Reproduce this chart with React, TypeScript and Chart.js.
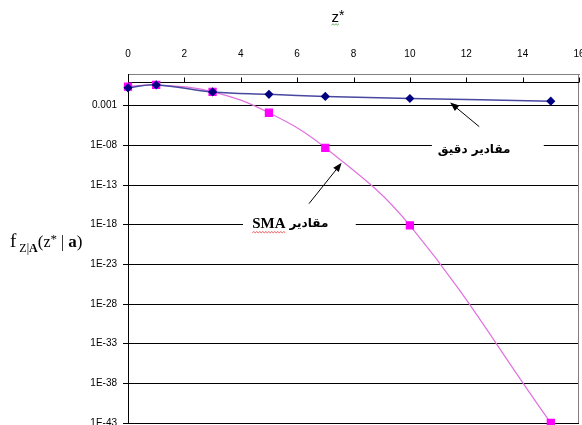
import React, { useEffect, useRef } from 'react';
import { Chart, registerables } from 'chart.js';

Chart.register(...registerables);

// ---- data ----
const zValues = [0, 1, 3, 5, 7, 10, 15];
const exactValues = [0.18, 0.42, 0.055, 0.027, 0.015, 0.0083, 0.0038];
const smaValues = [0.25, 0.42, 0.057, 1.3e-4, 5e-9, 8e-19, 1e-43];
const xTickValues = [0, 2, 4, 6, 8, 10, 12, 14, 16];
const yTickValues = [1e-43, 1e-38, 1e-33, 1e-28, 1e-23, 1e-18, 1e-13, 1e-8, 1e-3];
const yTickLabels = ['1E-43', '1E-38', '1E-33', '1E-28', '1E-23', '1E-18', '1E-13', '1E-08', '0.001'];
const xTitle = 'z*';
const exactLabel = 'مقادير دقيق';
const smaLabelAr = 'مقادير';
const smaLabelEn = 'SMA';

// annotation anchors (data coordinates)
const exactNote = { textX: 12.28, textY: 2.95e-9, boxFrom: 10.78, boxTo: 14.75 };
const exactArrow = { fromX: 12.46, fromY: 2.3e-6, toX: 11.43, toY: 2.5e-3 };
const smaNote = { enX: 5.0, textY: 1.3e-18, boxFrom: 4.08, boxTo: 8.08 };
const smaArrow = { fromX: 6.42, fromY: 4.5e-16, toX: 7.58, toY: 6.3e-11 };

const AXIS_FONT = 'Arial, "Liberation Sans", sans-serif';
const SERIF = '"Times New Roman", "Liberation Serif", serif';
const ARABIC = 'bold 12px "DejaVu Sans", Arial, sans-serif';

function drawArrow(ctx: CanvasRenderingContext2D, x1: number, y1: number, x2: number, y2: number) {
  ctx.save();
  ctx.strokeStyle = '#000';
  ctx.fillStyle = '#000';
  ctx.lineWidth = 1;
  const ang = Math.atan2(y2 - y1, x2 - x1);
  const len = 9;
  const w = 3.5;
  ctx.beginPath();
  ctx.moveTo(x1, y1);
  ctx.lineTo(x2 - len * 0.6 * Math.cos(ang), y2 - len * 0.6 * Math.sin(ang));
  ctx.stroke();
  ctx.beginPath();
  ctx.moveTo(x2, y2);
  ctx.lineTo(x2 - len * Math.cos(ang) + w * Math.sin(ang), y2 - len * Math.sin(ang) - w * Math.cos(ang));
  ctx.lineTo(x2 - len * Math.cos(ang) - w * Math.sin(ang), y2 - len * Math.sin(ang) + w * Math.cos(ang));
  ctx.closePath();
  ctx.fill();
  ctx.restore();
}

function squiggle(ctx: CanvasRenderingContext2D, x1: number, x2: number, y: number, color: string) {
  ctx.save();
  ctx.strokeStyle = color;
  ctx.lineWidth = 0.8;
  ctx.beginPath();
  let up = true;
  ctx.moveTo(x1, y);
  for (let x = x1 + 1.5; x <= x2; x += 1.5) {
    ctx.lineTo(x, up ? y - 1.2 : y);
    up = !up;
  }
  ctx.stroke();
  ctx.restore();
}

const excelPlugin = {
  id: 'excelDecor',
  beforeDatasetsDraw(chart: any) {
    const { ctx, chartArea } = chart;
    const xs = chart.scales.x;
    const ys = chart.scales.y;
    ctx.save();
    // right border
    ctx.strokeStyle = '#808080';
    ctx.lineWidth = 1;
    ctx.beginPath();
    ctx.moveTo(Math.round(chartArea.right) - 0.5, chartArea.top);
    ctx.lineTo(Math.round(chartArea.right) - 0.5, chartArea.bottom);
    ctx.stroke();
    // category axis line crossing at 1
    const y1 = Math.round(ys.getPixelForValue(1)) + 0.5;
    ctx.strokeStyle = '#000';
    ctx.beginPath();
    ctx.moveTo(chartArea.left, y1);
    ctx.lineTo(chartArea.right, y1);
    for (const v of xTickValues) {
      if (v === 0) continue;
      const px = Math.round(xs.getPixelForValue(v)) + 0.5;
      ctx.moveTo(px, y1);
      ctx.lineTo(px, y1 - 5);
    }
    ctx.stroke();
    ctx.restore();
  },
  afterDraw(chart: any) {
    const { ctx, chartArea } = chart;
    const xs = chart.scales.x;
    const ys = chart.scales.y;
    ctx.save();

    // x title
    const tx = (chartArea.left + chartArea.right) / 2 - 16;
    ctx.fillStyle = '#000';
    ctx.textBaseline = 'alphabetic';
    ctx.font = '15px ' + AXIS_FONT;
    ctx.textAlign = 'left';
    const zW = ctx.measureText(xTitle[0]).width;
    ctx.fillText(xTitle[0], tx - 6, 22);
    ctx.font = '14px ' + AXIS_FONT;
    ctx.fillText(xTitle[1], tx - 6 + zW, 20);
    squiggle(ctx, tx - 6, tx - 6 + zW, 25, '#3a9a3a');

    // y title with subscript
    let x = 10;
    const base = (chartArea.top + chartArea.bottom) / 2 - 2;
    const parts = [
      { t: 'f', f: '19px ' + SERIF, dy: 0, gap: 3 },
      { t: 'Z', f: '12px ' + SERIF, dy: 5, gap: 0 },
      { t: '|', f: '12px ' + SERIF, dy: 5, gap: 0 },
      { t: 'A', f: 'bold 12px ' + SERIF, dy: 5, gap: 0 },
      { t: '(', f: '17px ' + SERIF, dy: 0, gap: 0 },
      { t: 'z', f: '16px ' + SERIF, dy: 0, gap: 0 },
      { t: '*', f: '13px ' + SERIF, dy: -4, gap: 0 },
      { t: ' | ', f: '16px ' + SERIF, dy: 0, gap: 0 },
      { t: 'a', f: 'bold 17px ' + SERIF, dy: 0, gap: 0 },
      { t: ')', f: '17px ' + SERIF, dy: 0, gap: 0 },
    ];
    for (const p of parts) {
      ctx.font = p.f;
      ctx.fillText(p.t, x, base + p.dy);
      x += ctx.measureText(p.t).width + p.gap;
    }

    // note: exact values
    const ey = ys.getPixelForValue(exactNote.textY);
    const bx1 = xs.getPixelForValue(exactNote.boxFrom);
    const bx2 = xs.getPixelForValue(exactNote.boxTo);
    ctx.fillStyle = '#fff';
    ctx.fillRect(bx1, ey - 13, bx2 - bx1, 26);
    ctx.fillStyle = '#000';
    ctx.font = ARABIC;
    ctx.textAlign = 'center';
    ctx.textBaseline = 'middle';
    ctx.fillText(exactLabel, xs.getPixelForValue(exactNote.textX), ey);
    drawArrow(ctx, xs.getPixelForValue(exactArrow.fromX), ys.getPixelForValue(exactArrow.fromY),
      xs.getPixelForValue(exactArrow.toX), ys.getPixelForValue(exactArrow.toY));

    // note: SMA values
    const sy = ys.getPixelForValue(smaNote.textY);
    const sx1 = xs.getPixelForValue(smaNote.boxFrom);
    const sx2 = xs.getPixelForValue(smaNote.boxTo);
    ctx.fillStyle = '#fff';
    ctx.fillRect(sx1, sy - 13, sx2 - sx1, 26);
    ctx.fillStyle = '#000';
    ctx.font = 'bold 15px ' + SERIF;
    const enX = xs.getPixelForValue(smaNote.enX);
    ctx.fillText(smaLabelEn, enX, sy);
    const enW = ctx.measureText(smaLabelEn).width;
    squiggle(ctx, enX - enW / 2, enX + enW / 2, sy + 9, '#e03030');
    ctx.font = ARABIC;
    ctx.textAlign = 'left';
    ctx.fillText(smaLabelAr, enX + enW / 2 + 4, sy);
    drawArrow(ctx, xs.getPixelForValue(smaArrow.fromX), ys.getPixelForValue(smaArrow.fromY),
      xs.getPixelForValue(smaArrow.toX), ys.getPixelForValue(smaArrow.toY));

    ctx.restore();
  },
};

export default function App() {
  const ref = useRef<HTMLCanvasElement>(null);

  useEffect(() => {
    if (!ref.current) return;
    const chart = new Chart(ref.current, {
      type: 'line',
      data: {
        datasets: [
          {
            label: exactLabel,
            data: zValues.map((z, i) => ({ x: z, y: exactValues[i] })),
            borderColor: '#4848a0',
            backgroundColor: '#000080',
            pointBackgroundColor: '#000080',
            pointBorderColor: '#000080',
            pointStyle: 'rectRot',
            pointRadius: 3.5,
            borderWidth: 1.5,
            tension: 0.4,
            clip: false as any,
          },
          {
            label: 'SMA',
            data: zValues.map((z, i) => ({ x: z, y: smaValues[i] })),
            borderColor: '#e070e0',
            backgroundColor: '#ff00ff',
            pointBackgroundColor: '#ff00ff',
            pointBorderColor: '#ff00ff',
            pointStyle: 'rect',
            pointRadius: 5,
            borderWidth: 1.2,
            tension: 0.4,
            clip: false as any,
          },
        ],
      },
      options: {
        animation: false,
        responsive: false,
        maintainAspectRatio: false,
        devicePixelRatio: 1,
        layout: { autoPadding: false, padding: { left: 0, right: 3, top: 0, bottom: 2 } },
        plugins: { legend: { display: false }, tooltip: { enabled: false } },
        scales: {
          x: {
            type: 'linear',
            position: 'top',
            min: 0,
            max: 16,
            afterBuildTicks: (s: any) => {
              s.ticks = xTickValues.map((v) => ({ value: v }));
            },
            ticks: {
              color: '#000',
              font: { size: 10, family: AXIS_FONT },
              padding: 14,
              maxRotation: 0,
              autoSkip: false,
            },
            grid: { display: false, drawTicks: false },
            border: { display: true, color: '#808080', width: 1 },
            afterFit: (s: any) => {
              s.height = 74;
              s.paddingLeft = 0;
              s.paddingRight = 0;
            },
          },
          y: {
            type: 'logarithmic',
            min: 1e-43,
            max: 10,
            afterBuildTicks: (s: any) => {
              s.ticks = yTickValues.map((v) => ({ value: v }));
            },
            ticks: {
              color: '#000',
              font: { size: 10, family: AXIS_FONT },
              padding: 6,
              autoSkip: false,
              callback: (_v: any, i: number) => yTickLabels[i],
            },
            grid: { color: '#000', lineWidth: 1, tickLength: 5, drawTicks: true },
            border: { display: true, color: '#000', width: 1 },
            afterFit: (s: any) => {
              s.width = 128;
              s.paddingTop = 0;
              s.paddingBottom = 0;
            },
          },
        },
      },
      plugins: [excelPlugin],
    } as any);
    return () => chart.destroy();
  }, []);

  return (
    <div style={{ position: 'fixed', left: 0, top: 0, width: 582, height: 425, background: '#fff' }}>
      <canvas ref={ref} width={582} height={425} style={{ width: 582, height: 425, display: 'block' }} />
    </div>
  );
}
